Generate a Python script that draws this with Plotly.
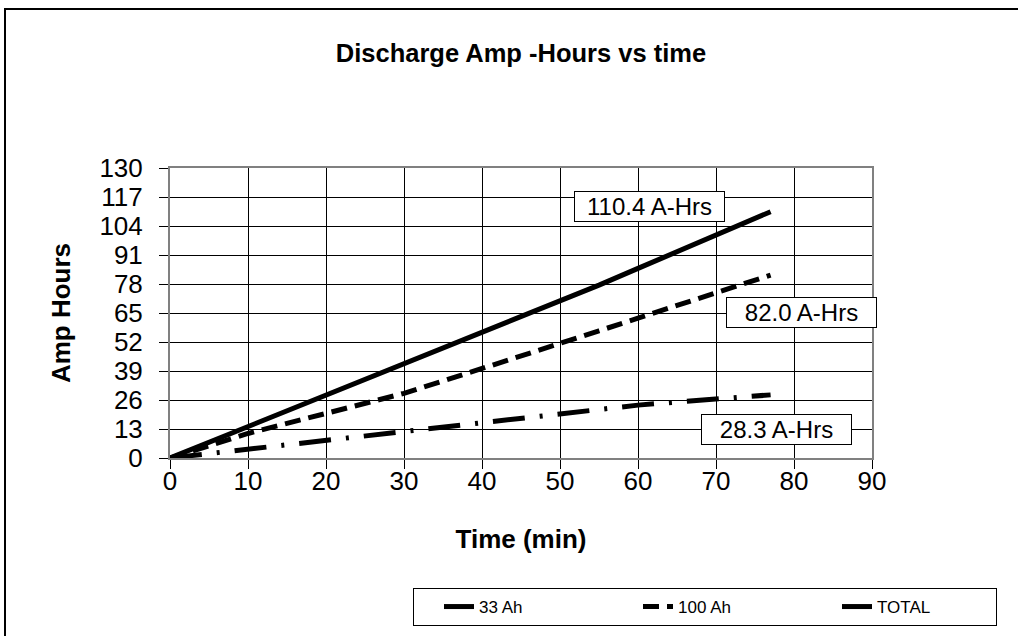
import plotly.graph_objects as go

# ---- data ----
time_min = [0, 5, 10, 15, 20, 25, 30, 35, 40, 45, 50, 55, 60, 65, 70, 75, 77]
ah_33 = [0, 2.0, 4.0, 6.0, 8.0, 10.0, 12.0, 14.0, 16.0, 18.0, 20.0, 21.9, 23.7, 25.1, 26.4, 27.7, 28.3]
ah_100 = [0, 5.5, 11.0, 15.5, 20.0, 24.5, 29.0, 34.5, 40.0, 45.5, 51.3, 57.0, 62.7, 68.4, 74.0, 79.7, 82.0]
ah_total = [0, 7.0, 14.0, 21.0, 28.0, 35.0, 42.0, 49.0, 56.0, 63.0, 70.0, 77.5, 85.0, 92.5, 100.0, 107.4, 110.4]

series_names = ["33 Ah", "100 Ah", "TOTAL"]
x_ticks = [0, 10, 20, 30, 40, 50, 60, 70, 80, 90]
y_ticks = [0, 13, 26, 39, 52, 65, 78, 91, 104, 117, 130]

FONT = "Liberation Sans, Arial, sans-serif"

W, H = 1018, 636
ml, mt = 170, 168
pw, ph = 702, 290
mr, mb = W - ml - pw, H - mt - ph

def sx(px):  # page px -> paper x
    return (px - ml) / pw

def sy(py):  # page px -> paper y
    return (mt + ph - py) / ph

fig = go.Figure()
styles = ["32px,15px,3px,15px", "16px,8px", "solid"]
legend_widths = [None, None, 114]
for name, ys, dash, lw in zip(series_names, [ah_33, ah_100, ah_total], styles, legend_widths):
    fig.add_trace(go.Scatter(
        x=time_min, y=ys, name=name, mode="lines",
        line=dict(color="black", width=5, dash=dash),
        legendwidth=lw,
    ))

# end-value labels
labels = [
    (ah_total[-1], 61.5, 112.7),
    (ah_100[-1], 80.9, 65.4),
    (ah_33[-1], 77.8, 12.7),
]
for val, ax, ay in labels:
    fig.add_annotation(
        x=ax, y=ay, xref="x", yref="y", text=f"{val:.1f} A-Hrs", showarrow=False,
        font=dict(family=FONT, size=24, color="black"),
        bgcolor="white", bordercolor="black", borderwidth=1, borderpad=2,
        width=145, height=25, align="center", valign="middle",
    )

# outer page frame (extends off the right and bottom edges)
fig.add_shape(type="rect", xref="paper", yref="paper",
              x0=sx(5), x1=sx(1040), y0=sy(9), y1=sy(660),
              line=dict(color="black", width=2), fillcolor="rgba(0,0,0,0)", layer="below")

fig.update_layout(
    width=W, height=H,
    margin=dict(l=ml, r=mr, t=mt, b=mb, autoexpand=False),
    paper_bgcolor="white", plot_bgcolor="white",
    font=dict(family=FONT, color="black"),
    title=dict(text="Discharge Amp -Hours vs time", x=521 / W, xanchor="center",
               y=1 - 53 / H, yanchor="middle",
               font=dict(family=FONT, size=25.5, color="black", weight="bold")),
    showlegend=True,
    legend=dict(
        orientation="h", x=sx(413), y=sy(588), xanchor="left", yanchor="top",
        bgcolor="white", bordercolor="black", borderwidth=1,
        font=dict(family=FONT, size=17, color="black"),
        entrywidth=129, entrywidthmode="pixels", indentation=25,
    ),
)
fig.update_xaxes(
    range=[0, 90], tickvals=x_ticks, ticktext=[str(v) for v in x_ticks],
    showgrid=True, gridcolor="black", gridwidth=1, zeroline=False,
    showline=True, linecolor="#808080", linewidth=2, mirror=True,
    ticks="outside", ticklen=9, tickcolor="black", tickwidth=1,
    tickfont=dict(family=FONT, size=26, color="black"),
    ticklabelstandoff=-10,
    title=dict(text="Time (min)", standoff=35,
               font=dict(family=FONT, size=26, color="black", weight="bold")),
)
fig.update_yaxes(
    range=[0, 130], tickvals=y_ticks, ticktext=[str(v) for v in y_ticks],
    showgrid=True, gridcolor="black", gridwidth=1, zeroline=False,
    showline=True, linecolor="#808080", linewidth=2, mirror=True,
    ticks="outside", ticklen=9, tickcolor="black", tickwidth=1,
    tickfont=dict(family=FONT, size=26, color="black"),
    ticklabelstandoff=11,
    title=dict(text="Amp Hours", standoff=21,
               font=dict(family=FONT, size=26, color="black", weight="bold")),
)

# remove the browser's default 8px body margin so the figure sits at the page origin
fig.write_html("out.html", config={"displayModeBar": False},
               post_script="document.body.style.margin='0px';")
